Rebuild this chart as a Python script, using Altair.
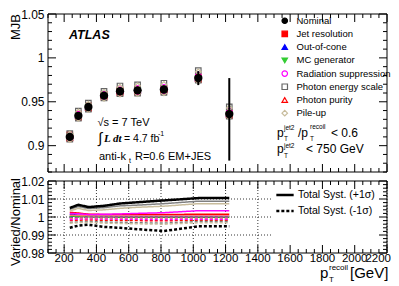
import altair as alt
import pandas as pd

# ---------------- data ----------------
pt = [235, 288, 350, 447, 546, 655, 818, 1031, 1223]
mjb = [0.910, 0.934, 0.944, 0.957, 0.962, 0.963, 0.964, 0.977, 0.936]
err_up = [0.004, 0.003, 0.003, 0.003, 0.003, 0.003, 0.004, 0.008, 0.041]
err_dn = [0.004, 0.003, 0.003, 0.003, 0.003, 0.003, 0.004, 0.008, 0.053]

series = ["Nominal", "Jet resolution", "Out-of-cone", "MC generator",
          "Radiation suppression", "Photon energy scale", "Photon purity", "Pile-up"]
shapes = ["circle", "square", "triangle-up", "triangle-down",
          "circle", "square", "triangle-up", "diamond"]
fills = ["#000000", "#ff0000", "#0000ff", "#33cc33",
         "transparent", "transparent", "transparent", "transparent"]
strokes = ["#000000", "#ff0000", "#0000ff", "#33cc33",
           "#ff00ff", "#666666", "#ff0000", "#c8bc9c"]

sys_names = ["Jet resolution", "Out-of-cone", "MC generator", "Radiation suppression",
             "Photon energy scale", "Photon purity", "Pile-up"]
line_colors = ["#ff0000", "#0000ff", "#22bb22", "#ff00ff", "#808080", "#ff7070", "#c8bc9c"]
ratio_up = [
    [1.0026, 1.0022, 1.0016, 1.0014, 1.0014, 1.0014, 1.0014, 1.0015, 1.0015],
    [1.0015, 1.0010, 1.0006, 1.0004, 1.0003, 1.0003, 1.0003, 1.0003, 1.0003],
    [1.0005, 1.0003, 1.0001, 1.0000, 0.9999, 0.9999, 0.9998, 0.9999, 0.9999],
    [1.0020, 1.0018, 1.0014, 1.0015, 1.0017, 1.0020, 1.0024, 1.0035, 1.0035],
    [1.0042, 1.0058, 1.0047, 1.0052, 1.0062, 1.0066, 1.0074, 1.0088, 1.0088],
    [1.0010, 1.0008, 1.0006, 1.0005, 1.0005, 1.0005, 1.0005, 1.0005, 1.0005],
    [1.0034, 1.0048, 1.0036, 1.0040, 1.0048, 1.0054, 1.0060, 1.0074, 1.0074],
]
ratio_dn = [
    [0.9980, 0.9982, 0.9984, 0.9982, 0.9981, 0.9980, 0.9979, 0.9982, 0.9982],
    [0.9995, 0.9996, 0.9997, 0.9997, 0.9997, 0.9997, 0.9997, 0.9997, 0.9997],
    None,
    [0.9986, 0.9988, 0.9990, 0.9989, 0.9988, 0.9987, 0.9986, 0.9988, 0.9988],
    [0.9970, 0.9972, 0.9975, 0.9972, 0.9970, 0.9968, 0.9966, 0.9975, 0.9975],
    [0.9993, 0.9994, 0.9995, 0.9995, 0.9995, 0.9995, 0.9995, 0.9995, 0.9995],
    [0.9965, 0.9968, 0.9970, 0.9966, 0.9964, 0.9962, 0.9960, 0.9968, 0.9968],
]
total_names = ["Total Syst. (+1\u03c3)", "Total Syst. (-1\u03c3)"]
total_up = [1.0050, 1.0068, 1.0055, 1.0062, 1.0075, 1.0082, 1.0092, 1.0105, 1.0105]
total_dn = [0.9940, 0.9952, 0.9957, 0.9945, 0.9940, 0.9932, 0.9922, 0.9948, 0.9948]

x_major = [200, 400, 600, 800, 1000, 1200, 1400, 1600, 1800, 2000, 2200]
x_labels = ["200", "400", "600", "800", "1000", "1200", "1400", "1600", "1800", "2000", "2200"]
x_minor = [100, 150, 250, 300, 350, 450, 500, 550, 650, 700, 750, 850, 900, 950,
           1050, 1100, 1150, 1250, 1300, 1350, 1450, 1500, 1550, 1650, 1700, 1750,
           1850, 1900, 1950, 2050, 2100, 2150]
y1_major = [0.9, 0.95, 1.0, 1.05]
y1_minor = [0.87, 0.88, 0.89, 0.91, 0.92, 0.93, 0.94, 0.96, 0.97, 0.98, 0.99,
            1.01, 1.02, 1.03, 1.04]
y2_major = [0.98, 0.99, 1.0, 1.01, 1.02]
y2_minor = [0.982, 0.984, 0.986, 0.988, 0.992, 0.994, 0.996, 0.998,
            1.002, 1.004, 1.006, 1.008, 1.012, 1.014, 1.016, 1.018]
y2_grid = [0.99, 1.0, 1.01]

# ---------------- layout ----------------
FONT = "Liberation Sans"
W = 339
H1 = 158
GAP = 9
T2 = H1 + GAP
H = T2 + 72

xscale = alt.Scale(domain=[100, 2200], nice=False, zero=False)
y1scale = alt.Scale(domain=[0.87, 1.05], range=[H1, 0], nice=False, zero=False)
y2scale = alt.Scale(domain=[0.98, 1.02], range=[H, T2], nice=False, zero=False)

y1axis = alt.Axis(values=y1_major, format=".2~f", ticks=False, domain=False, grid=False,
                  orient="left", labelFont=FONT, labelFontSize=12, labelPadding=4,
                  labelColor="black", title=None)
y2axis = alt.Axis(values=y2_major, format=".2~f", ticks=False, domain=False, grid=False,
                  orient="left", labelFont=FONT, labelFontSize=12, labelPadding=4,
                  labelColor="black", title=None, labelOverlap=False)

one = pd.DataFrame({"a": [0]})


def txt(s, x, y, size=11, **kw):
    props = dict(text=s, fontSize=size, font=FONT, align="left",
                 baseline="alphabetic", color="black")
    props.update(kw)
    return alt.Chart(one).mark_text(**props).encode(x=alt.value(x), y=alt.value(y))


layers = []

# frames
for y0, y1 in [(0, H1), (T2, H)]:
    layers.append(alt.Chart(one).mark_rect(fill="transparent", stroke="black", strokeWidth=1)
                  .encode(x=alt.value(0), x2=alt.value(W), y=alt.value(y0), y2=alt.value(y1)))

# lower-panel grid
gx = pd.DataFrame({"v": x_major})
layers.append(alt.Chart(gx).mark_rule(color="black", strokeWidth=0.8, strokeDash=[1, 2])
              .encode(x=alt.X("v:Q", scale=xscale, axis=None),
                      y=alt.value(T2), y2=alt.value(H)))
gy = pd.DataFrame({"v": y2_grid})
layers.append(alt.Chart(gy).mark_rule(color="black", strokeWidth=0.8, strokeDash=[1, 2])
              .encode(y=alt.Y("v:Q", scale=y2scale, axis=None),
                      x=alt.value(0), x2=alt.value(W)))
# legend box (hides grid under the lower legend)
layers.append(alt.Chart(one).mark_rect(fill="white")
              .encode(x=alt.value(223), x2=alt.value(W - 1),
                      y=alt.value(T2 + 1), y2=alt.value(H - 1)))

# inside ticks
for ysc, ymaj, ymin in [(y1scale, y1_major, y1_minor), (y2scale, y2_major, y2_minor)]:
    for vals, L in [(ymaj, 8), (ymin, 4)]:
        d = pd.DataFrame({"v": vals})
        b = alt.Chart(d).mark_rule(color="black", strokeWidth=1)
        layers.append(b.encode(y=alt.Y("v:Q", scale=ysc, axis=None),
                               x=alt.value(0), x2=alt.value(L)))
        layers.append(b.encode(y=alt.Y("v:Q", scale=ysc, axis=None),
                               x=alt.value(W - L), x2=alt.value(W)))
for top, bot in [(0, H1), (T2, H)]:
    for vals, L in [(x_major, 8), (x_minor, 4)]:
        d = pd.DataFrame({"v": vals})
        b = alt.Chart(d).mark_rule(color="black", strokeWidth=1)
        layers.append(b.encode(x=alt.X("v:Q", scale=xscale, axis=None),
                               y=alt.value(bot - L), y2=alt.value(bot)))
        layers.append(b.encode(x=alt.X("v:Q", scale=xscale, axis=None),
                               y=alt.value(top), y2=alt.value(top + L)))

# x tick labels (lower panel)
xl = pd.DataFrame({"v": x_major[:-1], "lab": x_labels[:-1]})
layers.append(alt.Chart(xl).mark_text(font=FONT, fontSize=11.5, color="black",
                                      align="center", baseline="alphabetic")
              .encode(x=alt.X("v:Q", scale=xscale, axis=None), y=alt.value(H + 8.5),
                      text="lab:N"))
xl2 = pd.DataFrame({"v": x_major[-1:], "lab": x_labels[-1:]})
layers.append(alt.Chart(xl2).mark_text(font=FONT, fontSize=11.5, color="black",
                                       align="right", baseline="alphabetic", dx=4)
              .encode(x=alt.X("v:Q", scale=xscale, axis=None), y=alt.value(H + 8.5),
                      text="lab:N"))

# ---------------- top panel ----------------
rows = []
for k, name in enumerate(sys_names):
    for rl in (ratio_dn[k], ratio_up[k]):
        if rl is None:
            continue
        for i in range(len(pt)):
            rows.append({"pt": pt[i], "val": mjb[i] * rl[i], "series": name})
var_df = pd.DataFrame(rows)

leg1 = alt.Legend(title=None, orient="none", legendX=232, legendY=2,
                  labelFont=FONT, labelFontSize=9.5, labelColor="black",
                  symbolSize=30, symbolStrokeWidth=1.2, rowPadding=2.2,
                  labelOffset=7, padding=0)
layers.append(alt.Chart(var_df).mark_point(size=30, strokeWidth=1.2, opacity=1)
              .encode(x=alt.X("pt:Q", scale=xscale, axis=None),
                      y=alt.Y("val:Q", scale=y1scale, axis=None),
                      shape=alt.Shape("series:N", scale=alt.Scale(domain=series, range=shapes), legend=leg1),
                      fill=alt.Fill("series:N", scale=alt.Scale(domain=series, range=fills), legend=leg1),
                      stroke=alt.Stroke("series:N", scale=alt.Scale(domain=series, range=strokes), legend=leg1)))

nom = pd.DataFrame({"pt": pt, "mjb": mjb, "eu": err_up, "ed": err_dn})
nom["lo"] = nom["mjb"] - nom["ed"]
nom["hi"] = nom["mjb"] + nom["eu"]
layers.append(alt.Chart(nom).mark_rule(color="black", strokeWidth=2)
              .encode(x=alt.X("pt:Q", scale=xscale, axis=None),
                      y=alt.Y("lo:Q", scale=y1scale, axis=None), y2="hi:Q"))
layers.append(alt.Chart(nom).mark_point(filled=True, size=70, color="black", opacity=1)
              .encode(x=alt.X("pt:Q", scale=xscale, axis=None),
                      y=alt.Y("mjb:Q", scale=y1scale, axis=y1axis)))

# ---------------- lower panel ----------------
up_rows, dn_rows = [], []
for k, name in enumerate(sys_names):
    for i in range(len(pt)):
        up_rows.append({"pt": pt[i], "r": ratio_up[k][i], "sys": name, "col": line_colors[k]})
        if ratio_dn[k] is not None:
            dn_rows.append({"pt": pt[i], "r": ratio_dn[k][i], "sys": name, "col": line_colors[k]})
for rows_, dash in [(up_rows, [1, 0]), (dn_rows, [3, 2])]:
    layers.append(alt.Chart(pd.DataFrame(rows_)).mark_line(strokeWidth=1.5, strokeDash=dash)
                  .encode(x=alt.X("pt:Q", scale=xscale, axis=None),
                          y=alt.Y("r:Q", scale=y2scale, axis=None),
                          detail="sys:N",
                          color=alt.Color("col:N", scale=None)))

tot_rows = []
for name, vals in zip(total_names, [total_up, total_dn]):
    for i in range(len(pt)):
        tot_rows.append({"pt": pt[i], "r": vals[i], "name": name})
leg2 = alt.Legend(title=None, orient="none", legendX=227, legendY=T2 + 4,
                  symbolType="stroke", symbolStrokeColor="black", symbolStrokeWidth=2.5,
                  symbolSize=300, labelFont=FONT, labelFontSize=10.5, labelColor="black",
                  rowPadding=-2, labelOffset=3, padding=0)
layers.append(alt.Chart(pd.DataFrame(tot_rows)).mark_line(strokeWidth=2.5, color="black")
              .encode(x=alt.X("pt:Q", scale=xscale, axis=None),
                      y=alt.Y("r:Q", scale=y2scale, axis=y2axis),
                      strokeDash=alt.StrokeDash("name:N", scale=alt.Scale(domain=total_names, range=[[1, 0], [3, 2]]), legend=leg2)))

# ---------------- texts ----------------
layers += [
    txt("ATLAS", 21, 24.5, 12.5, fontWeight="bold", fontStyle="italic"),
    txt("\u221as = 7 TeV", 49.5, 111.5, 11),
    txt("\u222b", 50, 129, 15),
    txt("L dt", 56, 127.5, 11, font="Liberation Serif", fontWeight="bold", fontStyle="italic"),
    txt("= 4.7 fb", 76, 127.5, 10.5),
    txt("-1", 110, 122, 7),
    txt("anti-k", 51, 146, 11),
    txt("t", 81, 148.5, 7),
    txt("R=0.6", 87, 146, 11),
    txt("EM+JES", 120, 146, 11),
    txt("p", 229, 123, 12),
    txt("jet2", 236, 116, 6.5),
    txt("T", 236, 127, 6.5),
    txt("/p", 250, 123, 12),
    txt("recoil", 262, 115, 6.5),
    txt("T", 262, 127, 6.5),
    txt("< 0.6", 283, 123, 12),
    txt("p", 229, 139, 12),
    txt("jet2", 236, 134, 6.5),
    txt("T", 236, 144, 6.5),
    txt("< 750 GeV", 258, 139, 12),
    txt("MJB", -28.5, 0, 13, angle=270, align="right"),
    txt("Varied/Nominal", -28.5, T2 - 3, 13, angle=270, align="right"),
    txt("p", 272, H + 25, 15),
    txt("recoil", 281, H + 17, 8),
    txt("T", 281, H + 29, 8),
    txt("[GeV]", 302, H + 25, 15),
]

chart = alt.layer(*layers).resolve_scale(y="independent").properties(
    width=W, height=H,
    autosize=alt.AutoSizeParams(type="none"),
    padding={"left": 40, "top": 6, "right": 4, "bottom": 30},
).configure_view(strokeWidth=0)

chart.save("out.html", embed_options={"renderer": "svg", "actions": False})
